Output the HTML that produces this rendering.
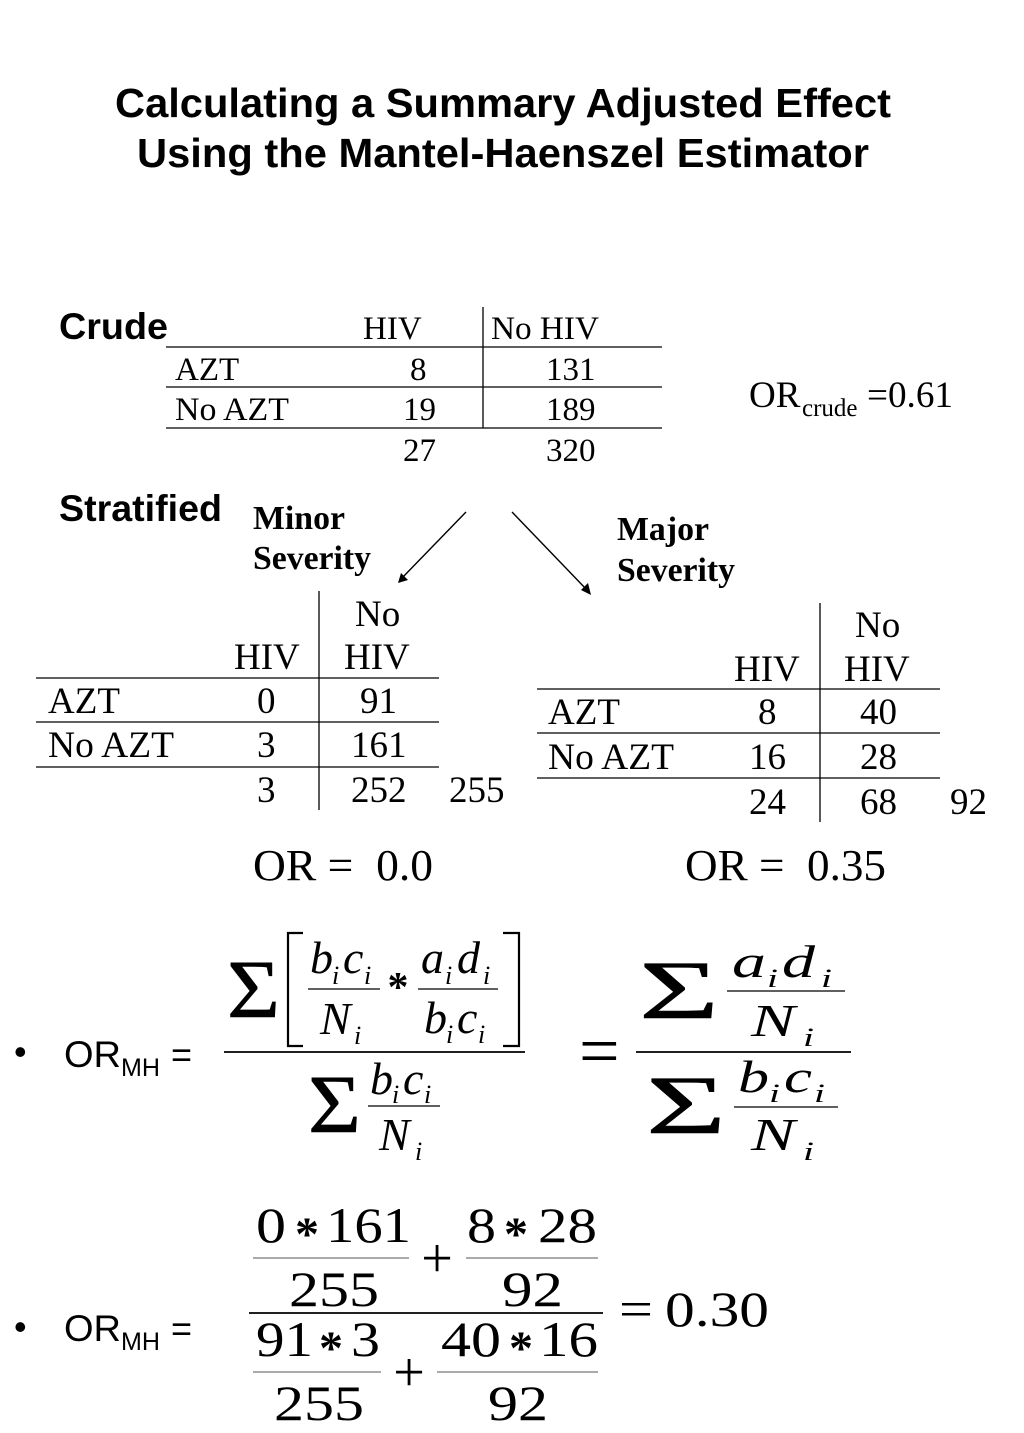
<!DOCTYPE html>
<html>
<head>
<meta charset="utf-8">
<style>
html,body{margin:0;padding:0;background:#fff}
svg{display:block}
text{fill:#000;white-space:pre}
.s{font-family:"Liberation Sans",sans-serif}
.b{font-family:"Liberation Sans",sans-serif;font-weight:bold}
.t{font-family:"Liberation Serif",serif}
.tb{font-family:"Liberation Serif",serif;font-weight:bold}
.i{font-family:"Liberation Serif",serif;font-style:italic}
.g{font-family:"Liberation Serif",serif;stroke:#000;stroke-width:.6}
</style>
</head>
<body>
<svg width="1024" height="1433" viewBox="0 0 1024 1433" xmlns="http://www.w3.org/2000/svg">
<rect width="1024" height="1433" fill="#fff"/>
<text class="b" x="115" y="117" font-size="40.5" textLength="776" lengthAdjust="spacingAndGlyphs">Calculating a Summary Adjusted Effect</text>
<text class="b" x="137" y="167" font-size="40.5" textLength="732" lengthAdjust="spacingAndGlyphs">Using the Mantel-Haenszel Estimator</text>

<text class="b" x="59" y="339" font-size="37" textLength="109" lengthAdjust="spacingAndGlyphs">Crude</text>
<text class="b" x="59" y="521" font-size="37" textLength="163" lengthAdjust="spacingAndGlyphs">Stratified</text>

<g stroke="#000" stroke-width="1.3">
<line x1="166" y1="347" x2="662" y2="347"/><line x1="166" y1="387" x2="662" y2="387"/><line x1="166" y1="428" x2="662" y2="428"/>
<line x1="483" y1="307" x2="483" y2="428"/>
<line x1="36" y1="678" x2="439" y2="678"/><line x1="36" y1="722" x2="439" y2="722"/><line x1="36" y1="767" x2="439" y2="767"/>
<line x1="319" y1="591" x2="319" y2="810"/>
<line x1="537" y1="689" x2="940" y2="689"/><line x1="537" y1="733" x2="940" y2="733"/><line x1="537" y1="778" x2="940" y2="778"/>
<line x1="820" y1="603" x2="820" y2="822"/>
</g>
<text class="t" x="363" y="339" font-size="33">HIV</text>
<text class="t" x="491" y="339" font-size="33" textLength="108" lengthAdjust="spacingAndGlyphs">No HIV</text>
<text class="t" x="175" y="380" font-size="33">AZT</text>
<text class="t" x="410" y="380" font-size="33">8</text>
<text class="t" x="546" y="380" font-size="33">131</text>
<text class="t" x="175" y="420" font-size="33" textLength="114" lengthAdjust="spacingAndGlyphs">No AZT</text>
<text class="t" x="403" y="420" font-size="33">19</text>
<text class="t" x="546" y="420" font-size="33">189</text>
<text class="t" x="403" y="461" font-size="33">27</text>
<text class="t" x="546" y="461" font-size="33">320</text>

<text class="t" x="749" y="407" font-size="37">OR</text>
<text class="t" x="802" y="416" font-size="25">crude</text>
<text class="t" x="867" y="407" font-size="37" textLength="86" lengthAdjust="spacingAndGlyphs">=0.61</text>

<text class="tb" x="253" y="529" font-size="33.5" textLength="92" lengthAdjust="spacingAndGlyphs">Minor</text>
<text class="tb" x="253" y="569" font-size="33.5" textLength="118" lengthAdjust="spacingAndGlyphs">Severity</text>
<text class="tb" x="617" y="540" font-size="33.5" textLength="92" lengthAdjust="spacingAndGlyphs">Major</text>
<text class="tb" x="617" y="581" font-size="33.5" textLength="118" lengthAdjust="spacingAndGlyphs">Severity</text>

<line x1="466" y1="512" x2="402" y2="578" stroke="#000" stroke-width="1.4"/>
<polygon points="398,583 401,573 408,580" fill="#000"/>
<line x1="512" y1="512" x2="587" y2="590" stroke="#000" stroke-width="1.4"/>
<polygon points="591,595 581,590 588,583" fill="#000"/>

<text class="t" x="355" y="626" font-size="37">No</text>
<text class="t" x="234" y="669" font-size="37">HIV</text>
<text class="t" x="344" y="669" font-size="37">HIV</text>
<text class="t" x="48" y="713" font-size="37">AZT</text>
<text class="t" x="257" y="713" font-size="37">0</text>
<text class="t" x="360" y="713" font-size="37">91</text>
<text class="t" x="48" y="757" font-size="37" textLength="126" lengthAdjust="spacingAndGlyphs">No AZT</text>
<text class="t" x="257" y="757" font-size="37">3</text>
<text class="t" x="351" y="757" font-size="37">161</text>
<text class="t" x="257" y="802" font-size="37">3</text>
<text class="t" x="351" y="802" font-size="37">252</text>
<text class="t" x="449" y="802" font-size="37">255</text>

<text class="t" x="855" y="637" font-size="37">No</text>
<text class="t" x="734" y="681" font-size="37">HIV</text>
<text class="t" x="844" y="681" font-size="37">HIV</text>
<text class="t" x="548" y="724" font-size="37">AZT</text>
<text class="t" x="758" y="724" font-size="37">8</text>
<text class="t" x="860" y="724" font-size="37">40</text>
<text class="t" x="548" y="769" font-size="37" textLength="126" lengthAdjust="spacingAndGlyphs">No AZT</text>
<text class="t" x="749" y="769" font-size="37">16</text>
<text class="t" x="860" y="769" font-size="37">28</text>
<text class="t" x="749" y="814" font-size="37">24</text>
<text class="t" x="860" y="814" font-size="37">68</text>
<text class="t" x="950" y="814" font-size="37">92</text>

<text class="t" x="253" y="880" font-size="44" textLength="180" lengthAdjust="spacingAndGlyphs">OR =  0.0</text>
<text class="t" x="685" y="880" font-size="44" textLength="201" lengthAdjust="spacingAndGlyphs">OR =  0.35</text>

<text class="s" x="14" y="1064" font-size="36">•</text>
<text class="s" x="64" y="1067" font-size="37" textLength="57" lengthAdjust="spacingAndGlyphs">OR</text>
<text class="s" x="121" y="1076" font-size="25" textLength="39" lengthAdjust="spacingAndGlyphs">MH</text>
<text class="s" x="171" y="1067" font-size="36">=</text>
<text class="s" x="14" y="1339" font-size="36">•</text>
<text class="s" x="64" y="1341" font-size="37" textLength="57" lengthAdjust="spacingAndGlyphs">OR</text>
<text class="s" x="121" y="1350" font-size="25" textLength="39" lengthAdjust="spacingAndGlyphs">MH</text>
<text class="s" x="171" y="1341" font-size="36">=</text>

<!-- left formula -->
<text class="g" x="227" y="1017" font-size="83" textLength="53" lengthAdjust="spacingAndGlyphs">Σ</text>
<path d="M303 933H288V1046H303M503 933H519V1046H503" fill="none" stroke="#000" stroke-width="2.2"/>
<g stroke="#000" stroke-width="1.2">
<line x1="308" y1="989" x2="380" y2="989"/><line x1="418" y1="989" x2="498" y2="989"/>
<line x1="368" y1="1106" x2="440" y2="1106"/>
</g>
<line x1="224" y1="1052" x2="525" y2="1052" stroke="#000" stroke-width="1.8"/>
<text class="i" x="310" y="973" font-size="46">b</text><text class="i" x="332" y="984" font-size="26">i</text><text class="i" x="343" y="973" font-size="46">c</text><text class="i" x="364" y="984" font-size="26">i</text>
<text class="i" x="320" y="1034" font-size="46">N</text><text class="i" x="354" y="1044" font-size="26">i</text>
<text class="tb" x="398" y="1001" font-size="42" text-anchor="middle">*</text>
<text class="i" x="421" y="973" font-size="46">a</text><text class="i" x="445" y="984" font-size="26">i</text><text class="i" x="457" y="973" font-size="46">d</text><text class="i" x="483" y="984" font-size="26">i</text>
<text class="i" x="424" y="1033" font-size="46">b</text><text class="i" x="446" y="1043" font-size="26">i</text><text class="i" x="457" y="1033" font-size="46">c</text><text class="i" x="478" y="1043" font-size="26">i</text>
<text class="g" x="308" y="1132" font-size="83" textLength="53" lengthAdjust="spacingAndGlyphs">Σ</text>
<text class="i" x="370" y="1094" font-size="46">b</text><text class="i" x="392" y="1103" font-size="26">i</text><text class="i" x="403" y="1094" font-size="46">c</text><text class="i" x="424" y="1103" font-size="26">i</text>
<text class="i" x="379" y="1150" font-size="46">N</text><text class="i" x="415" y="1160" font-size="26">i</text>

<!-- right formula -->
<text class="t" x="579" y="1075" font-size="72">=</text>
<text class="g" x="639" y="1018" font-size="83" textLength="80" lengthAdjust="spacingAndGlyphs">Σ</text>
<text class="i" x="732" y="977" font-size="46" textLength="34" lengthAdjust="spacingAndGlyphs">a</text><text class="i" x="767" y="987" font-size="26" textLength="11" lengthAdjust="spacingAndGlyphs">i</text>
<text class="i" x="782" y="977" font-size="46" textLength="33" lengthAdjust="spacingAndGlyphs">d</text><text class="i" x="821" y="987" font-size="26" textLength="11" lengthAdjust="spacingAndGlyphs">i</text>
<line x1="727" y1="991" x2="845" y2="991" stroke="#000" stroke-width="1.2"/>
<text class="i" x="751" y="1036" font-size="46" textLength="44" lengthAdjust="spacingAndGlyphs">N</text><text class="i" x="803" y="1046" font-size="26" textLength="11" lengthAdjust="spacingAndGlyphs">i</text>
<line x1="636" y1="1052" x2="851" y2="1052" stroke="#000" stroke-width="1.8"/>
<text class="g" x="646" y="1133" font-size="83" textLength="80" lengthAdjust="spacingAndGlyphs">Σ</text>
<text class="i" x="738" y="1092" font-size="46" textLength="31" lengthAdjust="spacingAndGlyphs">b</text><text class="i" x="769" y="1102" font-size="26" textLength="11" lengthAdjust="spacingAndGlyphs">i</text>
<text class="i" x="784" y="1092" font-size="46" textLength="28" lengthAdjust="spacingAndGlyphs">c</text><text class="i" x="814" y="1102" font-size="26" textLength="11" lengthAdjust="spacingAndGlyphs">i</text>
<line x1="734" y1="1107" x2="838" y2="1107" stroke="#000" stroke-width="1.2"/>
<text class="i" x="751" y="1150" font-size="46" textLength="44" lengthAdjust="spacingAndGlyphs">N</text><text class="i" x="803" y="1160" font-size="26" textLength="11" lengthAdjust="spacingAndGlyphs">i</text>

<!-- numeric formula -->
<g stroke="#777" stroke-width="1.3">
<line x1="253" y1="1258" x2="409" y2="1258"/><line x1="466" y1="1258" x2="598" y2="1258"/>
<line x1="253" y1="1372" x2="381" y2="1372"/><line x1="437" y1="1372" x2="598" y2="1372"/>
</g>
<line x1="249" y1="1313" x2="603" y2="1313" stroke="#000" stroke-width="1.8"/>
<text class="t" x="256" y="1242" font-size="50" textLength="30" lengthAdjust="spacingAndGlyphs">0</text>
<text class="tb" x="307" y="1250" font-size="48" text-anchor="middle">*</text>
<text class="t" x="326" y="1242" font-size="50" textLength="85" lengthAdjust="spacingAndGlyphs">161</text>
<text class="t" x="437" y="1277" font-size="56" text-anchor="middle">+</text>
<text class="t" x="467" y="1242" font-size="50" textLength="29" lengthAdjust="spacingAndGlyphs">8</text>
<text class="tb" x="516" y="1250" font-size="48" text-anchor="middle">*</text>
<text class="t" x="538" y="1242" font-size="50" textLength="59" lengthAdjust="spacingAndGlyphs">28</text>
<text class="t" x="289" y="1306" font-size="50" textLength="90" lengthAdjust="spacingAndGlyphs">255</text>
<text class="t" x="502" y="1306" font-size="50" textLength="61" lengthAdjust="spacingAndGlyphs">92</text>
<text class="t" x="256" y="1356" font-size="50" textLength="57" lengthAdjust="spacingAndGlyphs">91</text>
<text class="tb" x="331" y="1364" font-size="48" text-anchor="middle">*</text>
<text class="t" x="351" y="1356" font-size="50" textLength="29" lengthAdjust="spacingAndGlyphs">3</text>
<text class="t" x="409" y="1391" font-size="56" text-anchor="middle">+</text>
<text class="t" x="441" y="1356" font-size="50" textLength="60" lengthAdjust="spacingAndGlyphs">40</text>
<text class="tb" x="521" y="1364" font-size="48" text-anchor="middle">*</text>
<text class="t" x="539" y="1356" font-size="50" textLength="59" lengthAdjust="spacingAndGlyphs">16</text>
<text class="t" x="274" y="1420" font-size="50" textLength="90" lengthAdjust="spacingAndGlyphs">255</text>
<text class="t" x="488" y="1420" font-size="50" textLength="60" lengthAdjust="spacingAndGlyphs">92</text>
<text class="t" x="619" y="1326" font-size="50" textLength="34" lengthAdjust="spacingAndGlyphs">=</text>
<text class="t" x="665" y="1326" font-size="50" textLength="104" lengthAdjust="spacingAndGlyphs">0.30</text>
</svg>
</body>
</html>
